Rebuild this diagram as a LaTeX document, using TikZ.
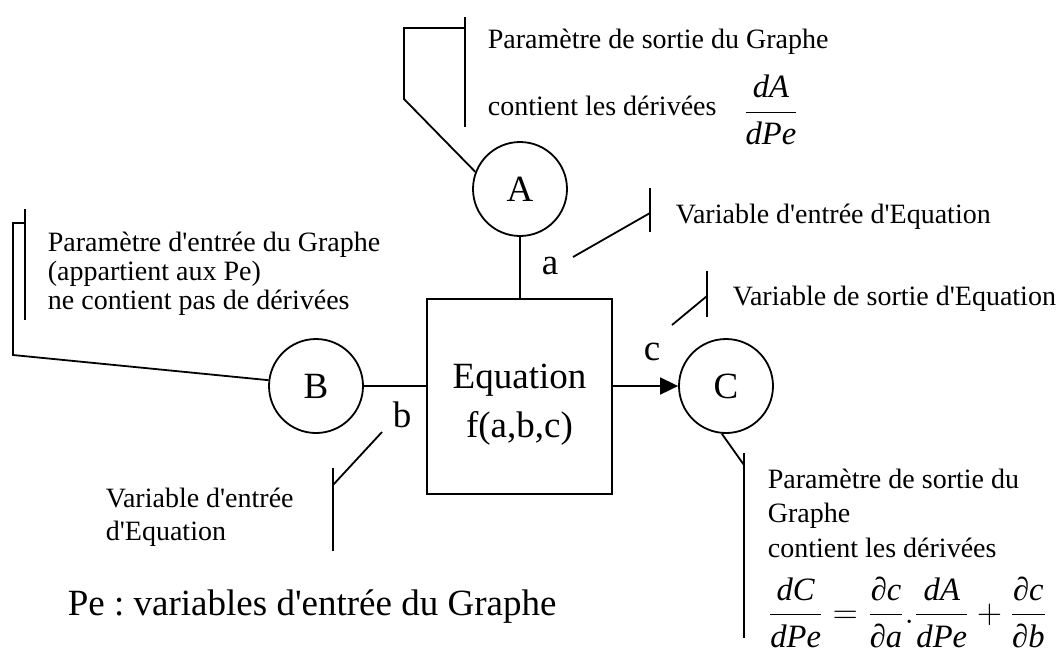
\documentclass[tikz,border=0pt]{standalone}
\usepackage{amsmath,amssymb}
\usepackage{fontspec}
\setmainfont{Liberation Serif}[Ligatures=TeXOff]
\usetikzlibrary{arrows.meta,calc}
\frenchspacing

\newcommand{\smalltxt}{\fontsize{14}{14.5}\selectfont}
\newcommand{\bigtxt}{\fontsize{18.5}{24.5}\selectfont}
\newcommand{\fractxt}{\fontsize{16.3}{20}\selectfont}
\newcommand{\itv}[1]{\text{\itshape #1}}

\begin{document}
\begin{tikzpicture}[x=0.5pt, y=-0.5pt, line width=0.9pt,
    var/.style={circle, draw, minimum size=47pt, inner sep=0pt, font=\bigtxt},
    eqbox/.style={draw, minimum width=92.5pt, minimum height=97.5pt},
    lab/.style={font=\bigtxt, inner sep=0pt},
    note/.style={font=\smalltxt, inner sep=0pt, align=left, anchor=base west}]
    \useasboundingbox (0,0) rectangle (1059,655);
    % Variables and equation
    \node[var] (A) at (520,189) {A};
    \node[var] (B) at (316,386) {B};
    \node[var] (C) at (726,386) {C};
    \node[eqbox] (eq) at (519.5,396.5) {};
    \node[lab, align=center] (eqtxt) at (519.5,405) {Equation\\f(a,b,c)};
    \draw (A) -- (A |- eq.north);
    \draw (B) -- (B -| eq.west);
    \draw[-{Triangle[length=9pt,width=8.5pt]}] (eq.east |- C) -- (C);
    \node[lab] (la) at (550,266) {a};
    \node[lab] (lb) at (402,415) {b};
    \node[lab] (lc) at (652,352) {c};
    % Callout of A
    \coordinate (pA1) at (465,17);  \coordinate (pA2) at (465,127);
    \coordinate (pA3) at (465,28);  \coordinate (pA4) at (404,28);
    \coordinate (pA5) at (404,99);
    \draw (pA1) -- (pA2);
    \draw (pA3) -- (pA4) -- (pA5) -- (A.159);
    \node[note] (tA1) at (487,48) {Paramètre de sortie du Graphe};
    \node[note] (tA2) at (487,115) {contient les dérivées};
    \node[font=\fractxt, inner sep=0pt] (fA) at (771,110) {$\dfrac{\itv{dA}}{\itv{dPe}}$};
    % Callout of B
    \coordinate (pB1) at (25,209);  \coordinate (pB2) at (25,320);
    \coordinate (pB3) at (25,223);  \coordinate (pB4) at (13,223);
    \coordinate (pB5) at (13,355);
    \draw (pB1) -- (pB2);
    \draw (pB3) -- (pB4) -- (pB5) -- (B.173);
    \node[note] (tB) at (47,309) {Paramètre d'entrée du Graphe\\(appartient aux Pe)\\ne contient pas de dérivées};
    % Callouts of a, b, c
    \coordinate (pa1) at (573,257); \coordinate (pa2) at (650,213);
    \coordinate (pa3) at (650,188); \coordinate (pa4) at (650,232);
    \draw (pa1) -- (pa2);
    \draw (pa3) -- (pa4);
    \node[note] (ta) at (675,223) {Variable d'entrée d'Equation};
    \coordinate (pb1) at (382,432); \coordinate (pb2) at (333,485);
    \coordinate (pb3) at (333,468); \coordinate (pb4) at (333,551);
    \draw (pb1) -- (pb2);
    \draw (pb3) -- (pb4);
    \node[note, font={\fontsize{14}{16.5}\selectfont}] (tb) at (105,540) {Variable d'entrée\\d'Equation};
    \coordinate (pc1) at (672,325); \coordinate (pc2) at (707,296);
    \coordinate (pc3) at (707,271); \coordinate (pc4) at (707,317);
    \draw (pc1) -- (pc2);
    \draw (pc3) -- (pc4);
    \node[note] (tc) at (732,305) {Variable de sortie d'Equation};
    % Callout of C
    \coordinate (pC1) at (744,465);
    \coordinate (pC2) at (744,453); \coordinate (pC3) at (744,638);
    \draw (C.265) -- (pC1);
    \draw (pC2) -- (pC3);
    \node[note, font={\fontsize{14}{17.25}\selectfont}] (tC) at (767,557) {Paramètre de sortie du\\Graphe\\contient les dérivées};
    \node[font=\fractxt, inner sep=0pt, anchor=west] (fC) at (767,612)
      {$\dfrac{\itv{dC}}{\itv{dPe}}=\dfrac{\itv{∂c}}{\itv{∂a}}.\dfrac{\itv{dA}}{\itv{dPe}}+\dfrac{\itv{∂c}}{\itv{∂b}}$};
    % Pe
    \node[lab, anchor=base west] (pe) at (67,615) {Pe : variables d'entrée du Graphe};
\end{tikzpicture}
\end{document}
